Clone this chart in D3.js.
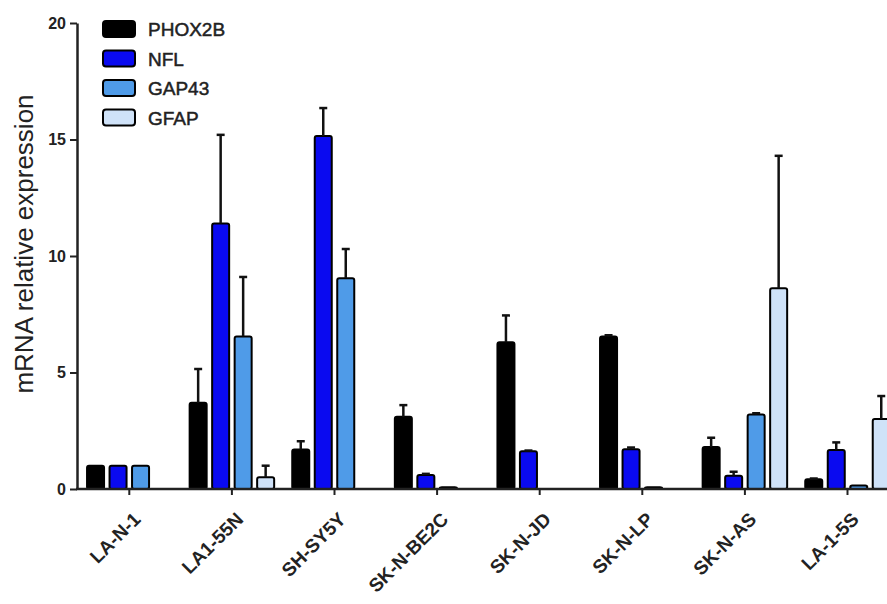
<!DOCTYPE html>
<html>
<head>
<meta charset="utf-8">
<script src="https://cdn.jsdelivr.net/npm/d3@7"></script>
<style>
  body { margin: 0; background: #fff; }
  text { font-family: "Liberation Sans", Arial, sans-serif; }
</style>
</head>
<body>
<div id="chart"></div>
<script>
// cell lines and markers
const cellLines = ["LA-N-1", "LA1-55N", "SH-SY5Y", "SK-N-BE2C", "SK-N-JD", "SK-N-LP", "SK-N-AS", "LA-1-5S"];
const markers = ["PHOX2B", "NFL", "GAP43", "GFAP"];
const markerColors = ["#000000", "#0a0af0", "#4f9be8", "#cfe2f8"];

// mean expression (null = no bar)
const phox2b = [1.0, 3.7, 1.7, 3.1, 6.3, 6.55, 1.8, 0.42];
const nfl    = [1.0, 11.4, 15.15, 0.6, 1.62, 1.71, 0.57, 1.67];
const gap43  = [1.0, 6.55, 9.05, 0.07, null, 0.07, 3.2, 0.15];
const gfap   = [null, 0.5, null, null, null, null, 8.62, 3.0];

// upper end of error bar (null = none)
const phox2bErr = [null, 5.15, 2.05, 3.6, 7.45, 6.6, 2.2, 0.45];
const nflErr    = [null, 15.2, 16.35, 0.65, 1.65, 1.78, 0.74, 2.0];
const gap43Err  = [null, 9.1, 10.3, null, null, null, 3.25, null];
const gfapErr   = [null, 1.0, null, null, null, null, 14.3, 3.99];

const yTicks = [0, 5, 10, 15, 20];

const WIDTH = 887, HEIGHT = 604;
const AXIS_X = 77, Y0 = 489, Y20 = 23;
const GROUP_STEP = 102.6;

const values = [phox2b, nfl, gap43, gfap];
const errs = [phox2bErr, nflErr, gap43Err, gfapErr];

const bars = [];
cellLines.forEach((c, i) => {
  markers.forEach((m, j) => {
    if (values[j][i] !== null) {
      bars.push({cell: c, marker: m, v: values[j][i], e: errs[j][i], color: markerColors[j]});
    }
  });
});

const svg = d3.select("#chart").append("svg")
  .attr("width", WIDTH)
  .attr("height", HEIGHT);

svg.append("rect").attr("width", WIDTH).attr("height", HEIGHT).attr("fill", "#fff");

const X = d3.scaleBand()
  .domain(cellLines)
  .range([AXIS_X + 1, AXIS_X + 1 + GROUP_STEP * cellLines.length]);

const XI = d3.scaleBand()
  .domain(markers)
  .range([-45, 45])
  .paddingInner(0.244)
  .paddingOuter(0.122);

const Y = d3.scaleLinear().domain([0, 20]).range([Y0, Y20]);

const plot = svg.append("g");

// bars
plot.selectAll("rect.bar")
  .data(bars)
  .enter()
  .append("rect")
    .attr("class", "bar")
    .attr("x", d => X(d.cell) + X.bandwidth() / 2 + XI(d.marker))
    .attr("y", d => Y(d.v))
    .attr("width", XI.bandwidth())
    .attr("height", d => Y(0) - Y(d.v))
    .attr("rx", 2)
    .attr("fill", d => d.color)
    .attr("stroke", "#000")
    .attr("stroke-width", 2);

// error bars
const eb = bars.filter(d => d.e !== null);
const cx = d => X(d.cell) + X.bandwidth() / 2 + XI(d.marker) + XI.bandwidth() / 2;

plot.selectAll("line.err")
  .data(eb)
  .enter()
  .append("line")
    .attr("x1", cx).attr("x2", cx)
    .attr("y1", d => Y(d.v)).attr("y2", d => Y(d.e))
    .attr("stroke", "#111").attr("stroke-width", 2.5);

plot.selectAll("line.cap")
  .data(eb)
  .enter()
  .append("line")
    .attr("x1", d => cx(d) - 4).attr("x2", d => cx(d) + 4)
    .attr("y1", d => Y(d.e)).attr("y2", d => Y(d.e))
    .attr("stroke", "#111").attr("stroke-width", 2.5);

// y axis
const yAxis = svg.append("g")
  .attr("transform", "translate(" + AXIS_X + ",0)")
  .call(d3.axisLeft(Y).tickValues(yTicks).tickSize(7).tickPadding(4).tickSizeOuter(0))
  .attr("font-size", 16)
  .attr("font-family", "Liberation Sans, Arial, sans-serif");
yAxis.select(".domain").attr("stroke", "#222").attr("stroke-width", 2.5);
yAxis.selectAll(".tick line").attr("stroke", "#222").attr("stroke-width", 2);
yAxis.selectAll(".tick text")
  .style("font-size", "16px").style("font-weight", "bold").attr("fill", "#222");

// x axis
const xAxis = svg.append("g")
  .attr("transform", "translate(0," + Y0 + ")")
  .call(d3.axisBottom(X).tickSize(6).tickSizeOuter(0))
  .attr("font-size", 19)
  .attr("font-family", "Liberation Sans, Arial, sans-serif");
xAxis.select(".domain").attr("stroke", "#222").attr("stroke-width", 2.5)
  .attr("d", "M" + (AXIS_X - 1) + ",0H" + WIDTH);
xAxis.selectAll(".tick line").attr("stroke", "#222").attr("stroke-width", 2);
xAxis.selectAll(".tick text")
  .style("font-size", "19px").style("font-weight", "bold").attr("fill", "#222")
  .attr("text-anchor", "end")
  .attr("transform", "translate(-6,13) rotate(-45)")
  .attr("dx", "0")
  .attr("dy", "0.9em");

// y title
svg.append("text")
  .attr("transform", "translate(33,244) rotate(-90)")
  .attr("text-anchor", "middle")
  .style("font-size", "26px")
  .attr("fill", "#222")
  .text("mRNA relative expression");

// legend
const legend = svg.append("g").attr("transform", "translate(103,29)");
const li = legend.selectAll("g")
  .data(markers)
  .enter()
  .append("g")
    .attr("transform", (d, i) => "translate(0," + (i * 29.5) + ")");
li.append("rect")
  .attr("x", 0).attr("y", -8)
  .attr("width", 32).attr("height", 16)
  .attr("rx", 3)
  .attr("fill", (d, i) => markerColors[i])
  .attr("stroke", "#000").attr("stroke-width", 2);
li.append("text")
  .attr("x", 45).attr("y", 7)
  .style("font-size", "19px")
  .attr("fill", "#222")
  .attr("stroke", "#222")
  .attr("stroke-width", 0.5)
  .text(d => d);
</script>
</body>
</html>
